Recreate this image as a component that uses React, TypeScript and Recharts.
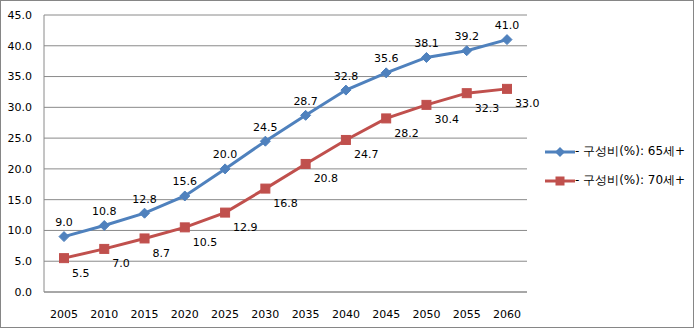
import { LineChart, Line, XAxis, YAxis, CartesianGrid, LabelList } from 'recharts'

const years = ['2005', '2010', '2015', '2020', '2025', '2030', '2035', '2040', '2045', '2050', '2055', '2060']
const ratio65 = [9.0, 10.8, 12.8, 15.6, 20.0, 24.5, 28.7, 32.8, 35.6, 38.1, 39.2, 41.0]
const ratio70 = [5.5, 7.0, 8.7, 10.5, 12.9, 16.8, 20.8, 24.7, 28.2, 30.4, 32.3, 33.0]
const yTicks = [0, 5, 10, 15, 20, 25, 30, 35, 40, 45]

const BLUE = '#4F81BD'
const RED = '#C0504D'
const FONT = '"DejaVu Sans", Verdana, sans-serif'

const data = years.map((y, i) => ({ year: y, a: ratio65[i], b: ratio70[i] }))

const Diamond = (props: any) => {
  const { cx, cy } = props
  if (cx == null || cy == null) return null
  const r = 5
  return <path d={`M${cx},${cy - r}L${cx + r},${cy}L${cx},${cy + r}L${cx - r},${cy}Z`} fill={BLUE} stroke={BLUE} />
}

const Square = (props: any) => {
  const { cx, cy } = props
  if (cx == null || cy == null) return null
  return <rect x={cx - 4.5} y={cy - 4.5} width={9} height={9} fill={RED} stroke={RED} />
}

const topLabel = (props: any) => {
  const { x, y, value } = props
  return (
    <text x={x} y={y - 14} textAnchor="middle" dominantBaseline="central" fontSize={11} fontFamily={FONT} fill="#000">
      {Number(value).toFixed(1)}
    </text>
  )
}

const lowLabel = (props: any) => {
  const { x, y, value } = props
  return (
    <text x={x + 8} y={y + 15} textAnchor="start" dominantBaseline="central" fontSize={11} fontFamily={FONT} fill="#000">
      {Number(value).toFixed(1)}
    </text>
  )
}

const legendItems = [
  { name: '- 구성비(%): 65세+', color: BLUE, shape: 'diamond' },
  { name: '- 구성비(%): 70세+', color: RED, shape: 'square' },
]

const LegendBox = () => (
  <div style={{ position: 'absolute', left: 544, top: 136, fontFamily: FONT, fontSize: 12, color: '#000' }}>
    {legendItems.map((it) => (
      <div key={it.name} style={{ display: 'flex', alignItems: 'center', height: 29 }}>
        <svg width={30} height={12}>
          <line x1={0} y1={6} x2={30} y2={6} stroke={it.color} strokeWidth={3} />
          {it.shape === 'diamond' ? (
            <path d="M15,1L20,6L15,11L10,6Z" fill={it.color} />
          ) : (
            <rect x={10.5} y={1.5} width={9} height={9} fill={it.color} />
          )}
        </svg>
        <span>{it.name}</span>
      </div>
    ))}
  </div>
)

export default function App() {
  return (
    <div style={{ position: 'absolute', left: 0, top: 0, width: 694, height: 328, border: '1px solid #868686', boxSizing: 'border-box', background: '#fff' }}>
      <div style={{ position: 'absolute', left: -1, top: -1 }}>
        <LineChart width={695} height={330} data={data} margin={{ top: 15, right: 168, bottom: 8, left: 0 }}>
          <CartesianGrid vertical={false} stroke="#8a8a8a" />
          <XAxis
            dataKey="year"
            height={30}
            padding={{ left: 20, right: 20 }}
            tickLine={false}
            axisLine={{ stroke: '#8a8a8a' }}
            tick={{ fontSize: 11, fontFamily: FONT, fill: '#000' }}
            tickMargin={12}
          />
          <YAxis
            width={44}
            domain={[0, 45]}
            ticks={yTicks}
            tickFormatter={(v: number) => v.toFixed(1)}
            tickLine={false}
            axisLine={{ stroke: '#8a8a8a' }}
            tick={{ fontSize: 11, fontFamily: FONT, fill: '#000' }}
            tickMargin={6}
          />
          <Line dataKey="a" name="- 구성비(%): 65세+" stroke={BLUE} strokeWidth={3} dot={<Diamond />} activeDot={false} isAnimationActive={false}>
            <LabelList dataKey="a" content={topLabel} />
          </Line>
          <Line dataKey="b" name="- 구성비(%): 70세+" stroke={RED} strokeWidth={3} dot={<Square />} activeDot={false} isAnimationActive={false}>
            <LabelList dataKey="b" content={lowLabel} />
          </Line>
        </LineChart>
      </div>
      <LegendBox />
    </div>
  )
}
